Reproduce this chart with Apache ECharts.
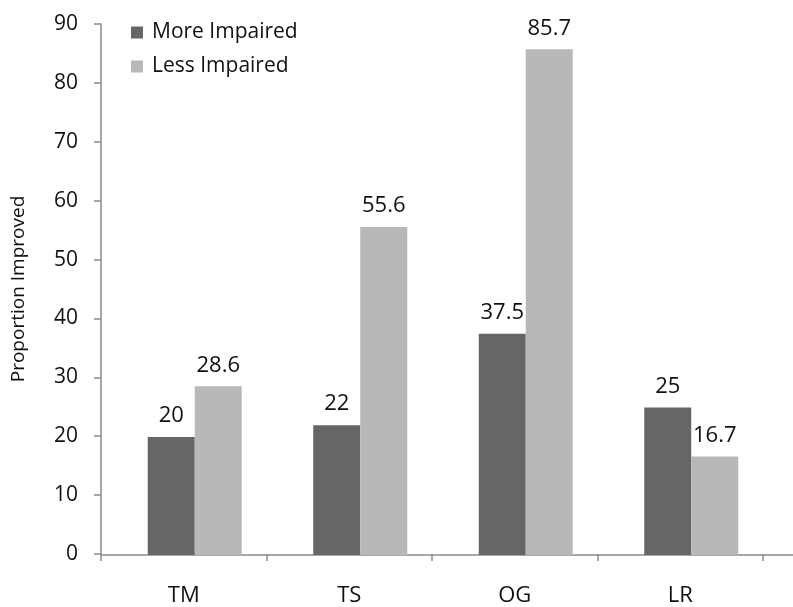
<!DOCTYPE html>
<html>
<head>
<meta charset="utf-8">
<script src="https://cdn.jsdelivr.net/npm/echarts@6/dist/echarts.min.js"></script>
<style>html,body{margin:0;padding:0;background:#fff}#c{width:793px;height:607px}</style>
</head>
<body>
<div id="c"></div>
<script>
var categories = ['TM', 'TS', 'OG', 'LR'];
var moreImpaired = [20, 22, 37.5, 25];
var lessImpaired = [28.6, 55.6, 85.7, 16.7];
var yTicks = [0, 10, 20, 30, 40, 50, 60, 70, 80, 90];
var seriesNames = ['More Impaired', 'Less Impaired'];

var FONT = 'Open Sans';
var AXIS = '#8a8a8a';
var chart = echarts.init(document.getElementById('c'));
var labelStyle = { show: true, position: 'top', distance: 10, color: '#111', fontSize: 22, fontFamily: FONT,
  formatter: function (p) { return String(p.value); } };

chart.setOption({
  animation: false,
  textStyle: { fontFamily: FONT },
  legend: {
    orient: 'vertical', left: 126, top: 17,
    itemWidth: 12, itemHeight: 12, itemGap: 13,
    icon: 'rect',
    textStyle: { fontSize: 21, fontFamily: FONT, color: '#111', padding: [0, 0, 0, 4] },
    data: seriesNames
  },
  grid: [
    { left: 101, right: 30, top: 24, bottom: 52 },
    { left: 112, right: 19, top: 24, bottom: 52 },
    { left: 101, right: 0, top: 24, bottom: 52 }
  ],
  xAxis: [
    { type: 'category', gridIndex: 0, data: categories, boundaryGap: true,
      axisLine: { show: false },
      axisTick: { show: true, length: 7, lineStyle: { color: AXIS, width: 1.5 } },
      axisLabel: { color: '#111', fontSize: 22, fontFamily: FONT, margin: 31 } },
    { type: 'category', gridIndex: 1, data: categories, show: false },
    { type: 'value', gridIndex: 2, min: 0, max: 1, axisLine: { show: true, onZero: false, lineStyle: { color: AXIS, width: 1.5 } },
      axisTick: { show: false }, axisLabel: { show: false }, splitLine: { show: false } }
  ],
  yAxis: [
    { type: 'value', gridIndex: 0, min: yTicks[0], max: yTicks[yTicks.length - 1], interval: 10,
      name: 'Proportion Improved', nameLocation: 'middle', nameGap: 73,
      nameTextStyle: { fontSize: 19, fontFamily: FONT, color: '#111' },
      axisLine: { show: true, lineStyle: { color: AXIS, width: 1.5 } },
      axisTick: { show: true, length: 7, lineStyle: { color: AXIS, width: 1.5 } },
      axisLabel: { color: '#111', fontSize: 21, fontFamily: FONT, margin: 23 },
      splitLine: { show: false } },
    { type: 'value', gridIndex: 1, min: yTicks[0], max: yTicks[yTicks.length - 1], interval: 10, show: false, splitLine: { show: false } },
    { type: 'value', gridIndex: 2, min: 0, max: 1, show: false, splitLine: { show: false } }
  ],
  series: [
    { name: seriesNames[0], type: 'bar', xAxisIndex: 1, yAxisIndex: 1, data: moreImpaired,
      barWidth: 47, barGap: '0%', itemStyle: { color: '#666666' }, label: labelStyle },
    { name: seriesNames[1], type: 'bar', xAxisIndex: 1, yAxisIndex: 1, data: lessImpaired,
      barWidth: 47, barGap: '0%', itemStyle: { color: '#b8b8b8' }, label: labelStyle }
  ]
});
</script>
</body>
</html>
